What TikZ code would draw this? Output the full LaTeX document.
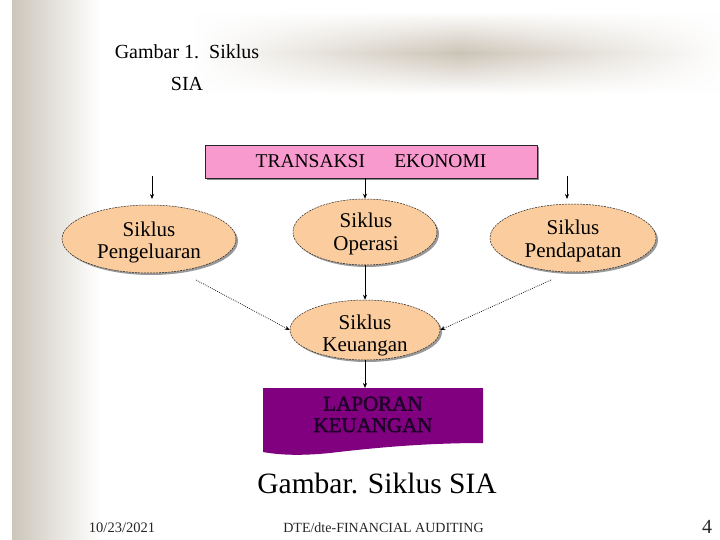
\documentclass[tikz,border=0pt]{standalone}
\usepackage{fontspec}
\setmainfont{Liberation Serif}
\newfontfamily\lapfont[FakeBold=2]{Liberation Serif}
\usetikzlibrary{shapes.geometric,arrows.meta,shadows,fadings}
\definecolor{peach}{RGB}{250,204,158}
\definecolor{pinkbox}{RGB}{248,154,206}
\definecolor{purp}{RGB}{128,0,128}
\definecolor{lapt}{RGB}{30,0,40}
\definecolor{barc}{RGB}{204,198,186}
\definecolor{banc}{RGB}{204,196,182}
\tikzfading[name=hfade, left color=transparent!100, right color=transparent!100, middle color=transparent!0]
\tikzset{
  cyc/.style={ellipse, draw=black!85, dash pattern=on 2pt off 1pt, line width=0.5pt,
    fill=peach, inner sep=0pt,
    drop shadow={shadow xshift=2pt, shadow yshift=-2pt, fill=black!40, opacity=1}},
  cyctext/.style={align=center, font=\fontsize{21}{22.5}\selectfont, inner sep=0pt},
  arr/.style={-{Stealth[length=5pt,width=4pt]}, line width=0.6pt},
  dotarr/.style={-{Stealth[length=5pt,width=4pt]}, line width=0.7pt, dash pattern=on 0.8pt off 1.2pt},
}
\begin{document}
\begin{tikzpicture}[x=1pt,y=-1pt]
\useasboundingbox (0,0) rectangle (720,540);
\fill[white] (0,0) rectangle (720,540);
% top banner streak
\shade[top color=white, bottom color=white, middle color=banc, path fading=hfade] (195,12) rectangle (725,94);
% left bar
\shade[left color=barc, right color=white] (12,0) rectangle (100,540);

% titles
\node[font=\fontsize{20}{22}\selectfont] (t1) at (187,52) {Gambar 1.\ \ Siklus};
\node[font=\fontsize{20}{22}\selectfont] (t2) at (187,84) {SIA};

% top box
\node[draw=black!85, line width=0.5pt, fill=pinkbox, minimum width=332pt, minimum height=33pt,
  font=\fontsize{19.5}{22}\selectfont, inner sep=0pt,
  drop shadow={shadow xshift=2pt, shadow yshift=-2pt, fill=black!45, opacity=1}]
  (trans) at (371,161.5) {TRANSAKSI\hspace{1.5em}EKONOMI};

% cycles
\node[cyc, minimum width=174pt, minimum height=68pt] (peng) at (149,239) {};
\node[cyc, minimum width=144pt, minimum height=66pt] (oper) at (365,232) {};
\node[cyc, minimum width=166pt, minimum height=68pt] (pend) at (573,238) {};
\node[cyc, minimum width=150pt, minimum height=60pt] (keu) at (365,330) {};
\node[cyctext] (pengT) at (149,242.5) {Siklus\\Pengeluaran};
\node[cyctext] (operT) at (366,234) {Siklus\\Operasi};
\node[cyctext] (pendT) at (573,241) {Siklus\\Pendapatan};
\node[cyctext] (keuT) at (365,335.5) {Siklus\\Keuangan};

% laporan document shape
\fill[purp] (263,388) -- (483,388) -- (483,443)
  .. controls (430,443) and (380,447) .. (330,453)
  .. controls (300,456) and (280,455) .. (263,452) -- cycle;
\node[font=\lapfont\fontsize{21}{21.5}\selectfont, text=lapt, align=center] (lap) at (373,414.5) {LAPORAN\\KEUANGAN};
\coordinate (laptop) at (365,388);

% connectors
\coordinate (la1) at (152,176);
\coordinate (la2) at (152,199);
\coordinate (ra1) at (567,176);
\coordinate (ra2) at (567,199);
\draw[arr] (la1) -- (la2);
\draw[arr] (ra1) -- (ra2);
\draw[arr] (oper.north |- trans.south) -- (oper.north);
\draw[arr] (oper.south) -- (keu.north);
\draw[arr] (keu.south) -- (laptop);
\coordinate (dl) at (196,280);
\coordinate (dr) at (551,280);
\draw[dotarr] (dl) -- (keu.west);
\draw[dotarr] (dr) -- (keu.east);

% caption and footer
\node[font=\fontsize{29.5}{31}\selectfont] (cap) at (377,483) {Gambar. Siklus SIA};
\node[font=\fontsize{14.5}{16}\selectfont, text=black!85] (date) at (122,528) {10/23/2021};
\node[font=\fontsize{14}{16}\selectfont, text=black!85] (foot) at (383.5,528) {DTE/dte-FINANCIAL AUDITING};
\node[font=\fontsize{20}{20}\selectfont, text=black!85] (pg) at (707,527) {4};
\end{tikzpicture}
\end{document}
